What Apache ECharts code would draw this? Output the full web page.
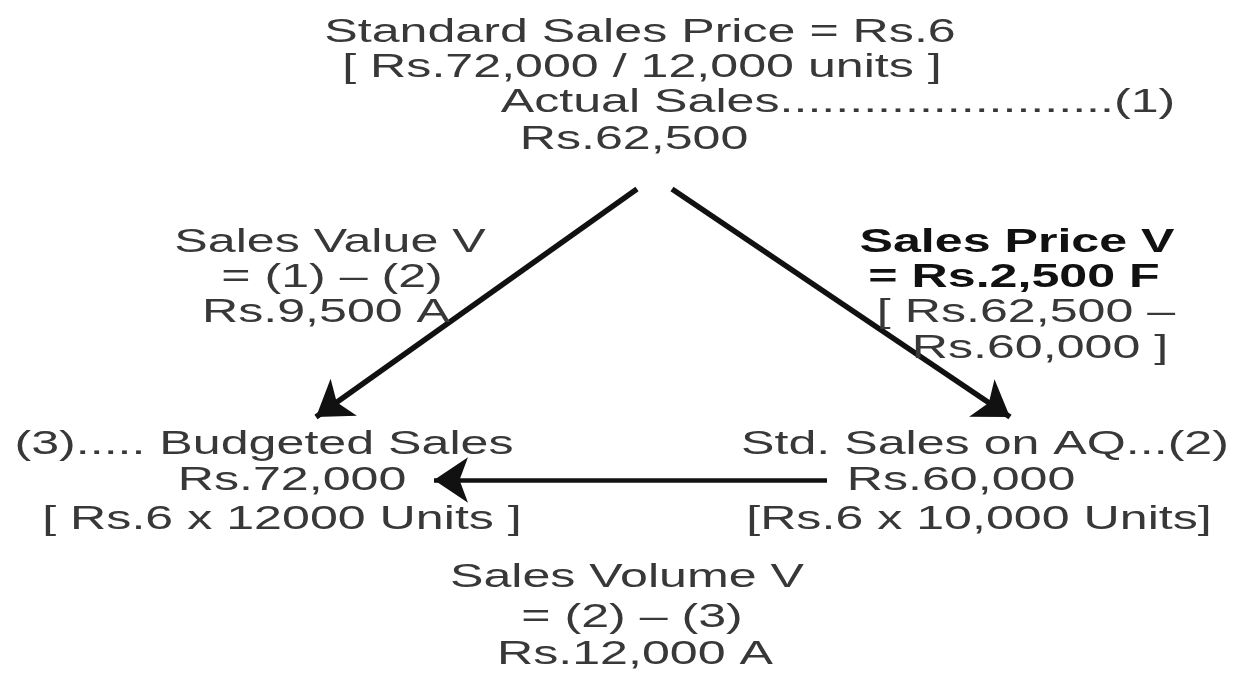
<!DOCTYPE html>
<html>
<head>
<meta charset="utf-8">
<title>Sales Variance</title>
<script src="https://cdn.jsdelivr.net/npm/echarts@6/dist/echarts.min.js"></script>
<style>
  html, body { margin: 0; padding: 0; background: #fff; }
  #main { width: 1239px; height: 678px; }
</style>
</head>
<body>
<div id="main"></div>
<script>
// 图中的文字（按行）
var labelText = [
    "Standard Sales Price = Rs.6",
    "[ Rs.72,000 / 12,000 units ]",
    "Actual Sales........................(1)",
    "Rs.62,500",
    "Sales Value V",
    "= (1) – (2)",
    "Rs.9,500 A",
    "Sales Price V",
    "= Rs.2,500 F",
    "[ Rs.62,500 –",
    "Rs.60,000 ]",
    "(3)..... Budgeted Sales",
    "Rs.72,000",
    "[ Rs.6 x 12000 Units ]",
    "Std. Sales on AQ...(2)",
    "Rs.60,000",
    "[Rs.6 x 10,000 Units]",
    "Sales Volume V",
    "= (2) – (3)",
    "Rs.12,000 A"
];
// 每行文字在图中的位置（图坐标）
var labelX = [640, 642, 838, 634, 330, 332, 326, 1017, 1014, 1026, 1040, 264, 292, 282, 985, 961, 979, 627, 632, 635];
var labelY = [33, 68, 103, 140, 243, 278, 313, 243, 278, 313, 349, 445, 481, 520, 445, 481, 520, 578, 618, 655];
// 箭头起点和终点
var arrowFrom = [[637, 189], [672, 189], [827, 480]];
var arrowTo = [[316, 417], [1010, 417], [434, 480]];

// 加粗的行
var boldRows = [7, 8];
var SCALE_X = 1.52;

var myChart = echarts.init(document.getElementById("main"));
var option = {
    backgroundColor: "#ffffff",
    animation: false,
    grid: { left: 0, right: 0, top: 0, bottom: 0 },
    xAxis: { type: "value", min: 0, max: 1239, show: false },
    yAxis: { type: "value", min: 0, max: 678, inverse: true, show: false },
    series: [{
        // 箭头
        type: "lines",
        coordinateSystem: "cartesian2d",
        symbol: ["none", "arrow"],
        symbolSize: [23, 34],
        lineStyle: { color: "#111", width: 5.5, opacity: 1, type: "solid" },
        data: arrowFrom.map(function (p, i) {
            var item = { coords: [p, arrowTo[i]] };
            // 水平箭头细一点
            if (i === 2) {
                item.lineStyle = { width: 4.5 };
            }
            return item;
        })
    }, {
        // 文字
        type: "custom",
        coordinateSystem: "cartesian2d",
        data: labelX.map(function (x, i) { return [x, labelY[i]]; }),
        renderItem: function (params, api) {
            var i = params.dataIndex;
            var p = api.coord([api.value(0), api.value(1)]);
            var bold = boldRows.indexOf(i) >= 0;
            return {
                type: "text",
                x: p[0],
                y: p[1],
                scaleX: SCALE_X,
                style: {
                    text: labelText[i],
                    fontFamily: "Liberation Sans",
                    fontSize: 33,
                    fontWeight: bold ? "bold" : "normal",
                    fill: bold ? "#111" : "#383838",
                    align: "center",
                    verticalAlign: "middle"
                }
            };
        }
    }]
};
myChart.setOption(option);
</script>
</body>
</html>
